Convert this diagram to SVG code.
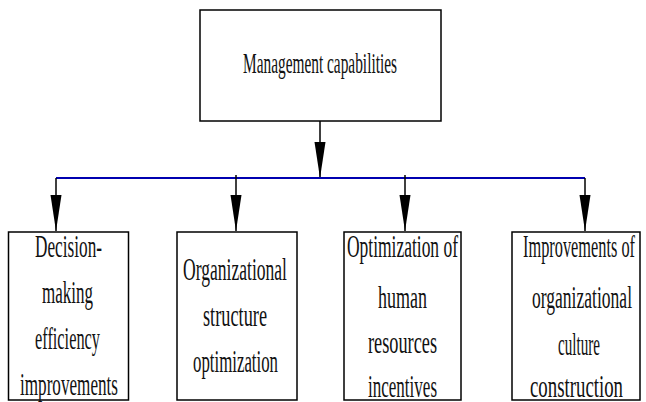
<svg xmlns="http://www.w3.org/2000/svg" width="646" height="402" viewBox="0 0 646 402">
<defs>
<style>
.box{fill:#fff;stroke:#000;stroke-width:1.5}
.t{font-family:"Liberation Serif","Times New Roman",serif;font-size:32px;fill:#111}
.tt{font-family:"Liberation Serif","Times New Roman",serif;font-size:30px;fill:#111}
.c{stroke:#000;stroke-width:1.5;fill:none}
.bus{stroke:#0000b0;stroke-width:2;fill:none}
</style>
<marker id="ah" viewBox="0 -6 36 12" markerWidth="36" markerHeight="12" refX="36" refY="0" orient="auto" markerUnits="userSpaceOnUse">
<path d="M0,-5.5 L36,0 L0,5.5 z" fill="#000"/>
</marker>
</defs>
<rect width="646" height="402" fill="#fff"/>
<g id="connectors">
<line class="c" x1="320" y1="121" x2="320" y2="178" marker-end="url(#ah)"/>
<line class="bus" x1="56" y1="178" x2="585" y2="178"/>
<line class="c" x1="56" y1="178" x2="56" y2="231" marker-end="url(#ah)"/>
<line class="c" x1="236" y1="175" x2="236" y2="231" marker-end="url(#ah)"/>
<line class="c" x1="405" y1="175" x2="405" y2="231" marker-end="url(#ah)"/>
<line class="c" x1="585" y1="178" x2="585" y2="231" marker-end="url(#ah)"/>
</g>
<g id="top">
<rect class="box" x="200" y="10" width="241" height="111"/>
<text class="tt" x="243" y="73" textLength="154" lengthAdjust="spacingAndGlyphs">Management capabilities</text>
</g>
<g id="n1">
<rect class="box" x="8.5" y="232" width="120" height="168"/>
<text class="t" x="35" y="257" textLength="67" lengthAdjust="spacingAndGlyphs">Decision-</text>
<text class="t" x="42" y="303" textLength="51" lengthAdjust="spacingAndGlyphs">making</text>
<text class="t" x="35" y="349" textLength="65" lengthAdjust="spacingAndGlyphs">efficiency</text>
<text class="t" x="20" y="395" textLength="98" lengthAdjust="spacingAndGlyphs">improvements</text>
</g>
<g id="n2">
<rect class="box" x="177" y="232" width="120" height="168"/>
<text class="t" x="183" y="280" textLength="104" lengthAdjust="spacingAndGlyphs">Organizational</text>
<text class="t" x="203" y="326" textLength="64" lengthAdjust="spacingAndGlyphs">structure</text>
<text class="t" x="193" y="372" textLength="85" lengthAdjust="spacingAndGlyphs">optimization</text>
</g>
<g id="n3">
<rect class="box" x="344" y="232" width="117" height="168"/>
<text class="t" x="347" y="257" textLength="111" lengthAdjust="spacingAndGlyphs">Optimization of</text>
<text class="t" x="378" y="308" textLength="49" lengthAdjust="spacingAndGlyphs">human</text>
<text class="t" x="368" y="353" textLength="69" lengthAdjust="spacingAndGlyphs">resources</text>
<text class="t" x="368" y="397" textLength="69" lengthAdjust="spacingAndGlyphs">incentives</text>
</g>
<g id="n4">
<rect class="box" x="512" y="232" width="128" height="168"/>
<text class="t" x="523" y="257" textLength="112" lengthAdjust="spacingAndGlyphs">Improvements of</text>
<text class="t" x="532" y="308" textLength="100" lengthAdjust="spacingAndGlyphs">organizational</text>
<text class="t" x="558" y="355" textLength="42" lengthAdjust="spacingAndGlyphs">culture</text>
<text class="t" x="530" y="397" textLength="93" lengthAdjust="spacingAndGlyphs">construction</text>
</g>
</svg>
